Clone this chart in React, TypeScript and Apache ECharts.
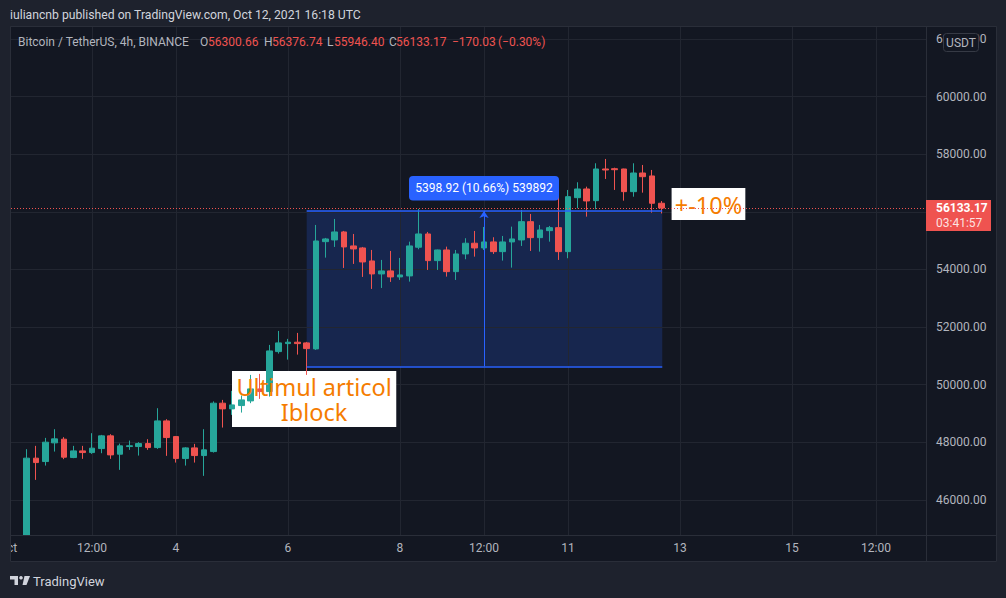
import React, { useEffect, useRef } from 'react';
import * as echarts from 'echarts';

// ---- text ----
const HEADER_TEXT = 'iuliancnb published on TradingView.com, Oct 12, 2021 16:18 UTC';
const SYMBOL_TEXT = 'Bitcoin / TetherUS, 4h, BINANCE';
const OHLC_LABELS = ['O', 'H', 'L', 'C'];
const OHLC_VALUES = ['56300.66', '56376.74', '55946.40', '56133.17'];
const CHANGE_TEXT = '\u2212170.03';
const CHANGE_PCT_TEXT = '(\u22120.30%)';

// ---- time (hours since Oct 1 2021 00:00 UTC), one candle every 4 hours ----
const FIRST_CANDLE_HOUR = 8;
const CANDLE_HOURS = 4;

// ---- OHLC (Oct 1 08:00 -> Oct 12 16:00 UTC) ----
const opens = [
  44400, 47449, 47331, 47980, 48108, 47470, 47702, 47643, 47782, 48223,
  47587, 47852, 47852, 47955, 47817, 48743, 48198, 47435, 47806, 47539,
  47678, 49358, 49160, 49275, 49437, 49854, 49761, 51149, 51427, 51475,
  51451, 51243, 54967, 55026, 55304, 54818, 54748, 54297, 53846, 53950,
  53742, 53777, 54773, 55234, 54308, 54678, 53926, 54540, 54912, 54748,
  54957, 54620, 54957, 55026, 55661, 55106, 55349, 55453, 54620, 56494,
  56796, 56390, 57490, 57500, 57490, 56703, 57351, 57248, 56300.66,
];
const closes = [
  47449, 47296, 48004, 48119, 47483, 47702, 47643, 47796, 48223, 47563,
  47876, 47880, 47955, 47817, 48743, 48164, 47435, 47806, 47539, 47737,
  49358, 49160, 49299, 49472, 49854, 49761, 51173, 51451, 51475, 51427,
  51253, 54991, 55061, 55304, 54783, 54714, 54262, 53846, 53950, 53742,
  53811, 54818, 55234, 54308, 54678, 53926, 54540, 54912, 54748, 54957,
  54620, 54957, 55061, 55661, 55106, 55373, 55453, 54620, 56529, 56796,
  56380, 57490, 57455, 57465, 56703, 57351, 57223, 56300, 56133.17,
];
const lows = [
  44300, 46695, 47192, 47678, 47414, 47449, 47425, 47598, 47621, 47425,
  47043, 47737, 47539, 47737, 47771, 47529, 47296, 47192, 47296, 46834,
  47643, 48511, 48951, 49032, 49358, 49507, 49587, 51080, 50871, 51045,
  50340, 51208, 54412, 54783, 54054, 54193, 53742, 53325, 53359, 53568,
  53638, 53579, 54702, 53985, 53985, 53752, 53637, 54356, 54446, 54678,
  54540, 54308, 54065, 54817, 54644, 54620, 54967, 54332, 54390, 56126,
  55835, 56092, 57143, 56762, 56389, 56528, 56668, 55974, 55946.4,
];
const highs = [
  47761, 47876, 48153, 48455, 48178, 47876, 47876, 48316, 48257, 48281,
  47955, 48060, 48004, 48108, 49184, 48802, 48220, 47830, 47945, 48455,
  49420, 49472, 49785, 49622, 50340, 50375, 51381, 51867, 51590, 51798,
  51486, 55547, 55096, 55755, 55339, 55234, 54783, 54679, 54332, 54644,
  54401, 54967, 56102, 55304, 54690, 54794, 54678, 55085, 55338, 55477,
  55120, 55165, 55488, 56067, 55928, 55547, 55512, 56553, 56762, 57029,
  56876, 57688, 57838, 57535, 57500, 57688, 57629, 57456, 56376.74,
];

// ---- axes ----
const timeTickHours = [0, 36, 72, 120, 168, 204, 240, 288, 336, 372];
const timeTickLabels = ['Oct', '12:00', '4', '6', '8', '12:00', '11', '13', '15', '12:00'];
const priceTicks = [46000, 48000, 50000, 52000, 54000, 56000, 58000, 60000, 62000];
const X_MIN = 0;
const X_MAX = 393.43;
const Y_MIN = 44781;
const Y_MAX = 62420;

// ---- annotations (data coordinates) ----
const lastPrice = 56133.17;
const lastPriceText = '56133.17';
const countdownText = '03:41:57';
const rangeStartHour = 128;
const rangeEndHour = 280.4;
const rangeMidHour = 204;
const rangeLow = 50633.08;
const rangeHigh = 56032;
const rangeLabel = '5398.92 (10.66%) 539892';
const noteText = 'Ultimul articol\nIblock';
const noteX = [96, 166.4];
const noteY = [50479, 48535];
const pctText = '+-10%';
const pctX = [284.4, 316];
const pctY = [56827, 55716];

// ---- styles ----
const OUTER = '#1e222d';
const PANE = '#131722';
const BORDER = '#2a2e39';
const GRIDLINE = '#222631';
const AXIS_TEXT = '#b2b5be';
const UP = '#26a69a';
const DOWN = '#ef5350';
const BLUE = '#2962ff';
const NOTE = '#f57c00';
const UI_FONT = 'Roboto, "Liberation Sans", sans-serif';

export default function App() {
  const ref = useRef<HTMLDivElement>(null);

  useEffect(() => {
    const el = ref.current;
    if (!el) return;
    const chart = echarts.init(el, null, { renderer: 'svg' });

    const candleData = opens.map((o, k) => [
      FIRST_CANDLE_HOUR + k * CANDLE_HOURS,
      o,
      closes[k],
      lows[k],
      highs[k],
    ]);
    const tickLabelMap = new Map<number, string>();
    timeTickHours.forEach((h, k) => tickLabelMap.set(h, timeTickLabels[k]));
    // the 56000 label sits under the last-price tag, as in the reference
    const priceLabelValues = priceTicks.filter((v) => Math.abs(v - lastPrice) > 500);

    chart.setOption({
      animation: false,
      backgroundColor: PANE,
      grid: { left: 8, right: 80, top: 27, bottom: 63, outerBoundsMode: 'none', containLabel: false },
      xAxis: {
        type: 'value',
        z: 60,
        min: X_MIN,
        max: X_MAX,
        axisLine: { show: false },
        axisTick: { show: false },
        splitLine: { show: false },
        axisLabel: {
          customValues: timeTickHours,
          formatter: (v: number) => tickLabelMap.get(v) ?? '',
          color: AXIS_TEXT,
          fontSize: 12,
          fontFamily: UI_FONT,
          margin: 7,
        },
      },
      yAxis: {
        type: 'value',
        position: 'right',
        min: Y_MIN,
        max: Y_MAX,
        axisLine: { show: false },
        axisTick: { show: false },
        splitLine: { show: false },
        axisLabel: {
          customValues: priceLabelValues,
          formatter: (v: number) => v.toFixed(2),
          color: AXIS_TEXT,
          fontSize: 12,
          fontFamily: UI_FONT,
          margin: 10,
        },
      },
      series: [
        {
          type: 'line',
          data: [],
          silent: true,
          z: 1,
          markLine: {
            silent: true,
            z: 1,
            symbol: 'none',
            label: { show: false },
            lineStyle: { color: GRIDLINE, width: 1, type: 'solid' },
            data: [
              ...timeTickHours.filter((h) => h > X_MIN).map((h) => ({ xAxis: h })),
              ...priceTicks.map((p) => ({ yAxis: p })),
            ],
          },
          markArea: {
            silent: true,
            z: 1,
            itemStyle: { color: 'rgba(41, 98, 255, 0.2)' },
            data: [[{ xAxis: rangeStartHour, yAxis: rangeHigh }, { xAxis: rangeEndHour, yAxis: rangeLow }]],
          },
        },
        {
          type: 'candlestick',
          data: candleData,
          barWidth: 6,
          clip: true,
          z: 2,
          itemStyle: {
            color: UP,
            color0: DOWN,
            borderColor: UP,
            borderColor0: DOWN,
            borderWidth: 1,
          },
        },
        {
          type: 'line',
          data: [],
          silent: true,
          z: 3,
          markLine: {
            silent: true,
            z: 3,
            symbol: 'none',
            label: { show: false },
            data: [
              [
                { coord: [rangeStartHour, rangeHigh], lineStyle: { color: BLUE, width: 1.5, type: 'solid' } },
                { coord: [rangeEndHour, rangeHigh] },
              ],
              [
                { coord: [rangeStartHour, rangeLow], lineStyle: { color: BLUE, width: 1.5, type: 'solid' } },
                { coord: [rangeEndHour, rangeLow] },
              ],
              [
                { coord: [rangeMidHour, rangeLow], symbol: 'none', lineStyle: { color: BLUE, width: 1, type: 'solid' } },
                { coord: [rangeMidHour, rangeHigh], symbol: 'arrow', symbolSize: 7 },
              ],
              { yAxis: lastPrice, lineStyle: { color: DOWN, width: 1, type: [1, 2] } },
            ],
          },
        },
      ],
    });

    const p = (x: number, y: number) => chart.convertToPixel({ gridIndex: 0 }, [x, y]) as number[];

    const g: any[] = [];
    // time-axis strip (hides candle parts below the price pane)
    g.push({ type: 'rect', z: 50, shape: { x: 11, y: 536, width: 915, height: 26 }, style: { fill: PANE } });
    // outer chrome
    g.push({ type: 'rect', z: 100, shape: { x: 0, y: 0, width: 1006, height: 27 }, style: { fill: OUTER } });
    g.push({ type: 'rect', z: 100, shape: { x: 0, y: 562, width: 1006, height: 36 }, style: { fill: OUTER } });
    g.push({ type: 'rect', z: 100, shape: { x: 0, y: 0, width: 10.5, height: 598 }, style: { fill: OUTER } });
    g.push({ type: 'rect', z: 100, shape: { x: 997, y: 0, width: 9, height: 598 }, style: { fill: OUTER } });
    g.push({
      type: 'rect', z: 101,
      shape: { x: 10.5, y: 26.5, width: 986, height: 535 },
      style: { fill: 'none', stroke: BORDER, lineWidth: 1 },
    });
    g.push({ type: 'line', z: 101, shape: { x1: 926.5, y1: 27, x2: 926.5, y2: 562 }, style: { stroke: BORDER, lineWidth: 1 } });
    g.push({ type: 'line', z: 101, shape: { x1: 11, y1: 535.5, x2: 997, y2: 535.5 }, style: { stroke: BORDER, lineWidth: 1 } });

    // header
    g.push({
      type: 'text', z: 102, x: 10, y: 15,
      style: { text: HEADER_TEXT, fill: '#d1d4dc', font: `12.2px ${UI_FONT}`, align: 'left', verticalAlign: 'middle' },
    });
    g.push({
      type: 'text', z: 102, x: 18, y: 42,
      style: { text: SYMBOL_TEXT, fill: AXIS_TEXT, font: `12px ${UI_FONT}`, align: 'left', verticalAlign: 'middle' },
    });
    const labelX = [200, 264, 327, 389];
    const valueX = [208, 272, 334, 396];
    OHLC_LABELS.forEach((lab, k) => {
      g.push({
        type: 'text', z: 102, x: labelX[k], y: 42,
        style: { text: lab, fill: AXIS_TEXT, font: `12px ${UI_FONT}`, align: 'left', verticalAlign: 'middle' },
      });
      g.push({
        type: 'text', z: 102, x: valueX[k], y: 42,
        style: { text: OHLC_VALUES[k], fill: DOWN, font: `12px ${UI_FONT}`, align: 'left', verticalAlign: 'middle' },
      });
    });
    g.push({
      type: 'text', z: 102, x: 452, y: 42,
      style: { text: CHANGE_TEXT, fill: DOWN, font: `12px ${UI_FONT}`, align: 'left', verticalAlign: 'middle' },
    });
    g.push({
      type: 'text', z: 102, x: 498, y: 42,
      style: { text: CHANGE_PCT_TEXT, fill: DOWN, font: `12px ${UI_FONT}`, align: 'left', verticalAlign: 'middle' },
    });

    // USDT badge
    g.push({
      type: 'rect', z: 102,
      shape: { x: 943.5, y: 33.5, width: 35, height: 18, r: 3 },
      style: { fill: PANE, stroke: '#363a45', lineWidth: 1 },
    });
    g.push({
      type: 'text', z: 103, x: 961, y: 42.5,
      style: { text: 'USDT', fill: AXIS_TEXT, font: `12px ${UI_FONT}`, align: 'center', verticalAlign: 'middle' },
    });

    // last price tag
    const lastY = p(X_MIN, lastPrice)[1];
    g.push({
      type: 'rect', z: 102,
      shape: { x: 926, y: lastY - 8, width: 65, height: 31 },
      style: { fill: DOWN },
    });
    g.push({
      type: 'text', z: 103, x: 936, y: lastY,
      style: { text: lastPriceText, fill: '#ffffff', font: `bold 12px ${UI_FONT}`, align: 'left', verticalAlign: 'middle' },
    });
    g.push({
      type: 'text', z: 103, x: 936, y: lastY + 14.5,
      style: { text: countdownText, fill: 'rgba(255,255,255,0.85)', font: `12px ${UI_FONT}`, align: 'left', verticalAlign: 'middle' },
    });

    // range label
    const [mx, topY] = p(rangeMidHour, rangeHigh);
    g.push({
      type: 'rect', z: 6,
      shape: { x: mx - 75, y: topY - 35, width: 150, height: 24.5, r: 4 },
      style: { fill: BLUE },
    });
    g.push({
      type: 'text', z: 7, x: mx, y: topY - 22.5,
      style: { text: rangeLabel, fill: '#ffffff', font: `12px ${UI_FONT}`, align: 'center', verticalAlign: 'middle' },
    });

    // note boxes
    const [nx0, ny0] = p(noteX[0], noteY[0]);
    const [nx1, ny1] = p(noteX[1], noteY[1]);
    g.push({ type: 'rect', z: 1.5, shape: { x: nx0, y: ny0, width: nx1 - nx0, height: ny1 - ny0 }, style: { fill: '#ffffff' } });
    g.push({
      type: 'text', z: 2.5, x: (nx0 + nx1) / 2, y: (ny0 + ny1) / 2 + 1,
      style: { text: noteText, fill: NOTE, font: '23.5px "Noto Sans"', align: 'center', verticalAlign: 'middle', lineHeight: 25 },
    });
    const [qx0, qy0] = p(pctX[0], pctY[0]);
    const [qx1, qy1] = p(pctX[1], pctY[1]);
    g.push({ type: 'rect', z: 1.5, shape: { x: qx0, y: qy0, width: qx1 - qx0, height: qy1 - qy0 }, style: { fill: '#ffffff' } });
    g.push({
      type: 'text', z: 1.6, x: (qx0 + qx1) / 2, y: (qy0 + qy1) / 2 + 1,
      style: { text: pctText, fill: NOTE, font: '23.5px "Noto Sans"', align: 'center', verticalAlign: 'middle' },
    });

    // footer logo
    const LOGO = '#d1d4dc';
    g.push({
      type: 'polygon', z: 102,
      shape: { points: [[10, 576], [18, 576], [18, 585], [14.5, 585], [14.5, 579.5], [10, 579.5]] },
      style: { fill: LOGO },
    });
    g.push({ type: 'circle', z: 102, shape: { cx: 21, cy: 577.8, r: 1.8 }, style: { fill: LOGO } });
    g.push({
      type: 'polygon', z: 102,
      shape: { points: [[24.5, 576], [30, 576], [26.5, 585], [22.5, 585]] },
      style: { fill: LOGO },
    });
    g.push({
      type: 'text', z: 102, x: 33, y: 581,
      style: { text: 'TradingView', fill: LOGO, font: `13px ${UI_FONT}`, align: 'left', verticalAlign: 'middle' },
    });

    chart.setOption({ graphic: { elements: g } });

    return () => chart.dispose();
  }, []);

  return (
    <div
      ref={ref}
      style={{ position: 'fixed', left: 0, top: 0, width: 1006, height: 598 }}
    />
  );
}
